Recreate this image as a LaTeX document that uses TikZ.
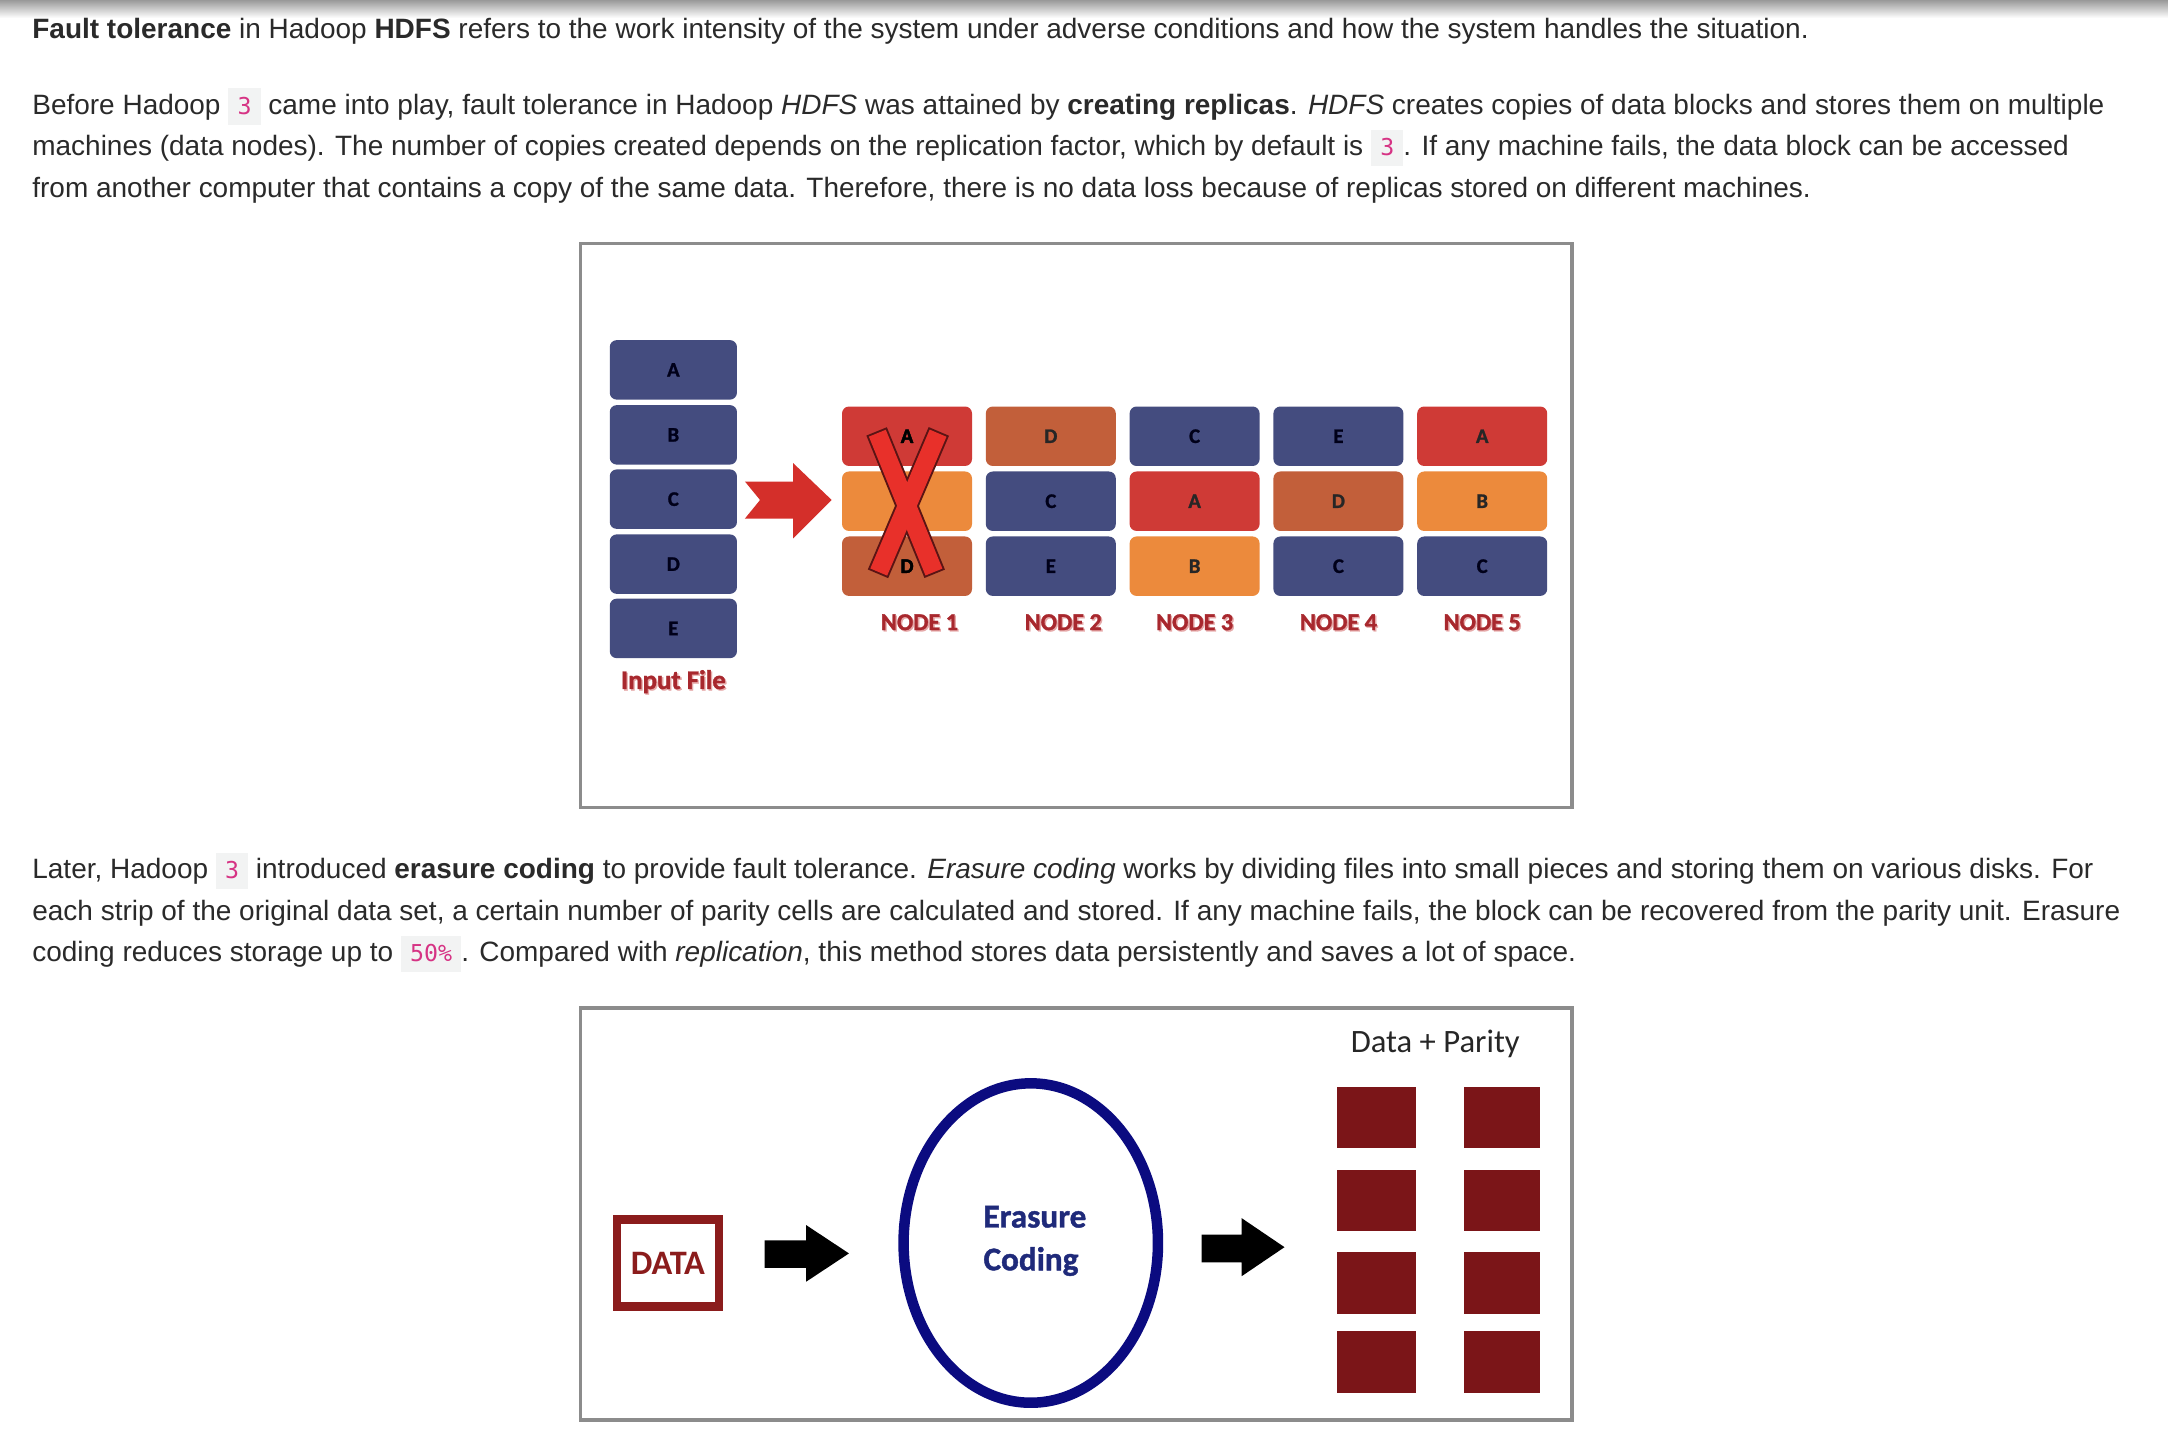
\documentclass[tikz,border=0pt]{standalone}
\usepackage{fontspec}
\setmainfont{Liberation Sans}
\newfontfamily\calfont{Carlito}
\newfontfamily\calheavy{Carlito}[BoldFeatures={FakeBold=1.2}]
\newfontfamily\monofont{DejaVu Sans Mono}
\usetikzlibrary{shapes.geometric}
\definecolor{bodytxt}{HTML}{2A2A2A}
\definecolor{codebg}{HTML}{F2F3F3}
\definecolor{codepink}{HTML}{D63384}
\definecolor{framegray}{HTML}{8C8C8C}
\definecolor{blkblue}{HTML}{444C7F}
\definecolor{blkred}{HTML}{CF3A36}
\definecolor{blkorange}{HTML}{EC8A3C}
\definecolor{blkbrown}{HTML}{C25F3A}
\definecolor{lblred}{HTML}{A8282E}
\definecolor{lblglow}{HTML}{E6A8A8}
\definecolor{xred}{HTML}{E8302A}
\definecolor{xdark}{HTML}{5A1414}
\definecolor{arrred}{HTML}{D42F2A}
\definecolor{sqred}{HTML}{7B1518}
\definecolor{navy}{HTML}{0B0B80}
\definecolor{ectxt}{HTML}{1F2A7A}
\definecolor{datared}{HTML}{8B1C1C}
\newcommand\code[1]{{\setlength\fboxsep{0pt}\colorbox{codebg}{\rule[-3.85pt]{0pt}{13.25pt}\hspace{3.3pt}\textcolor{codepink}{\fontsize{8.4}{10}\selectfont\monofont #1}\hspace{3.3pt}}}}
\tikzset{
  line/.style={anchor=base west, inner sep=0pt, text=bodytxt, font=\fontsize{10.12}{12}\selectfont},
  frame/.style={draw=framegray, line width=1.25pt},
  blk/.style={rounded corners=2.5pt, minimum width=47pt, minimum height=21.5pt, inner sep=0pt,
     font=\calheavy\bfseries\fontsize{7.5}{8}\selectfont, text=black!85},
  inblk/.style={blk, fill=blkblue, minimum width=46pt, text=blue!10!black},
  bb/.style={blk, fill=blkblue, text=blue!10!black},
  br/.style={blk, fill=blkred},
  bo/.style={blk, fill=blkorange},
  bn/.style={blk, fill=blkbrown},
  nodelbl/.style={inner sep=0pt, text=lblred, font=\calheavy\bfseries\fontsize{8.75}{10}\selectfont},
  glow/.style={nodelbl, text=lblglow},
  sq/.style={fill=sqred, inner sep=0pt},
  blackarrow/.style={fill=black},
}
\begin{document}
\begin{tikzpicture}[x=0.5pt, y=-0.5pt]
\useasboundingbox (0,0) rectangle (1568,1040);
\fill[white] (0,0) rectangle (1568,1040);
\shade[top color=black!40, bottom color=white] (0,0) rectangle (1568,13);

% ---------- text ----------
\node[line] (t1) at (23,28) {\textbf{Fault tolerance} in Hadoop \textbf{HDFS} refers to the work intensity of the system under adverse conditions and how the system handles the situation.};
\node[line] (t2) at (23,82.5) {Before Hadoop \code{3} came into play, fault tolerance in Hadoop \textit{HDFS} was attained by \textbf{creating replicas}. \textit{HDFS} creates copies of data blocks and stores them on multiple};
\node[line] (t3) at (23,112.5) {machines (data nodes). The number of copies created depends on the replication factor, which by default is \code{3}. If any machine fails, the data block can be accessed};
\node[line] (t4) at (23,142.5) {from another computer that contains a copy of the same data. Therefore, there is no data loss because of replicas stored on different machines.};
\node[line] (t5) at (23,635.5) {Later, Hadoop \code{3} introduced \textbf{erasure coding} to provide fault tolerance. \textit{Erasure coding} works by dividing files into small pieces and storing them on various disks. For};
\node[line] (t6) at (23,665.5) {each strip of the original data set, a certain number of parity cells are calculated and stored. If any machine fails, the block can be recovered from the parity unit. Erasure};
\node[line] (t7) at (23,695.5) {coding reduces storage up to \code{50\%}. Compared with \textit{replication}, this method stores data persistently and saves a lot of space.};

% ---------- figure 1 ----------
\draw[frame] (420,176) rectangle (1137,584);
\node[inblk] (inA) at (487,267.5) {A};
\node[inblk] (inB) at (487,314.5) {B};
\node[inblk] (inC) at (487,361) {C};
\node[inblk] (inD) at (487,408) {D};
\node[inblk] (inE) at (487,454.5) {E};
\node[glow, font=\calheavy\bfseries\fontsize{9.7}{11}\selectfont] (inglow) at (488,494) {Input File};
\node[nodelbl, font=\calheavy\bfseries\fontsize{9.7}{11}\selectfont] (inlbl) at (487,493) {Input File};

\fill[arrred] (538.8,348.3) -- (573.7,348.3) -- (573.7,335) -- (601.5,361.6) -- (573.7,389.3) -- (573.7,375) -- (538.8,375) -- (549.7,361.6) -- cycle;

% node 1
\node[br] (n1a) at (656,315.5) {A};
\node[bo] (n1b) at (656,362.5) {B};
\node[bn] (n1c) at (656,409.5) {D};
% node 2
\node[bn] (n2a) at (760,315.5) {D};
\node[bb] (n2b) at (760,362.5) {C};
\node[bb] (n2c) at (760,409.5) {E};
% node 3
\node[bb] (n3a) at (864,315.5) {C};
\node[br] (n3b) at (864,362.5) {A};
\node[bo] (n3c) at (864,409.5) {B};
% node 4
\node[bb] (n4a) at (968,315.5) {E};
\node[bn] (n4b) at (968,362.5) {D};
\node[bb] (n4c) at (968,409.5) {C};
% node 5
\node[br] (n5a) at (1072,315.5) {A};
\node[bo] (n5b) at (1072,362.5) {B};
\node[bb] (n5c) at (1072,409.5) {C};

\node[glow] (g1) at (666,451) {NODE 1};
\node[glow] (g2) at (770,451) {NODE 2};
\node[glow] (g3) at (865,451) {NODE 3};
\node[glow] (g4) at (969,451) {NODE 4};
\node[glow] (g5) at (1073,451) {NODE 5};
\node[nodelbl] (l1) at (665,450) {NODE 1};
\node[nodelbl] (l2) at (769,450) {NODE 2};
\node[nodelbl] (l3) at (864,450) {NODE 3};
\node[nodelbl] (l4) at (968,450) {NODE 4};
\node[nodelbl] (l5) at (1072,450) {NODE 5};

% the X over node 1
\coordinate (xa1) at (634,312);
\coordinate (xa2) at (676,415);
\coordinate (xb1) at (679,312);
\coordinate (xb2) at (635,415);
\draw[xdark, line width=8pt] (xa1) -- (xa2);
\draw[xdark, line width=8pt] (xb1) -- (xb2);
\draw[xred, line width=6.6pt, shorten <=0.7pt, shorten >=0.7pt] (xa1) -- (xa2);
\draw[xred, line width=6.6pt, shorten <=0.7pt, shorten >=0.7pt] (xb1) -- (xb2);
\node[inner sep=0pt, font=\calheavy\bfseries\fontsize{7.5}{8}\selectfont] (n1atxt) at (656,315.5) {A};
\node[inner sep=0pt, font=\calheavy\bfseries\fontsize{7.5}{8}\selectfont] (n1ctxt) at (656,409.5) {D};

% ---------- figure 2 ----------
\draw[frame] (420,729) rectangle (1137,1027);
\node[draw=datared, line width=3pt, minimum width=37pt, minimum height=31.5pt, inner sep=0pt,
      text=datared, font=\calfont\bfseries\fontsize{12.4}{14}\selectfont] (data) at (483,913.5) {DATA};
\fill[blackarrow] (553,897) -- (583,897) -- (583,886) -- (614,906.5) -- (583,927) -- (583,917) -- (553,917) -- cycle;
\node[ellipse, draw=navy, line width=3.8pt, minimum width=92pt, minimum height=115.5pt] (ec) at (745.5,899) {};
\node[align=left, inner sep=0pt, text=ectxt, font=\calheavy\bfseries\fontsize{12}{15.5}\selectfont] (ectext) at (748.5,897.5) {Erasure\\Coding};
\fill[blackarrow] (869,893) -- (898,893) -- (898,881) -- (929,902) -- (898,923) -- (898,913) -- (869,913) -- cycle;
\node[inner sep=0pt, text=black!85, font=\calfont\fontsize{11.8}{14}\selectfont] (dp) at (1038,755) {Data + Parity};
\node[sq, minimum width=28.5pt, minimum height=22pt] (s11) at (995.5,808) {};
\node[sq, minimum width=27.5pt, minimum height=22pt] (s12) at (1086.5,808) {};
\node[sq, minimum width=28.5pt, minimum height=22pt] (s21) at (995.5,868) {};
\node[sq, minimum width=27.5pt, minimum height=22pt] (s22) at (1086.5,868) {};
\node[sq, minimum width=28.5pt, minimum height=22.5pt] (s31) at (995.5,928) {};
\node[sq, minimum width=27.5pt, minimum height=22.5pt] (s32) at (1086.5,928) {};
\node[sq, minimum width=28.5pt, minimum height=22.5pt] (s41) at (995.5,985) {};
\node[sq, minimum width=27.5pt, minimum height=22.5pt] (s42) at (1086.5,985) {};
\end{tikzpicture}
\end{document}
